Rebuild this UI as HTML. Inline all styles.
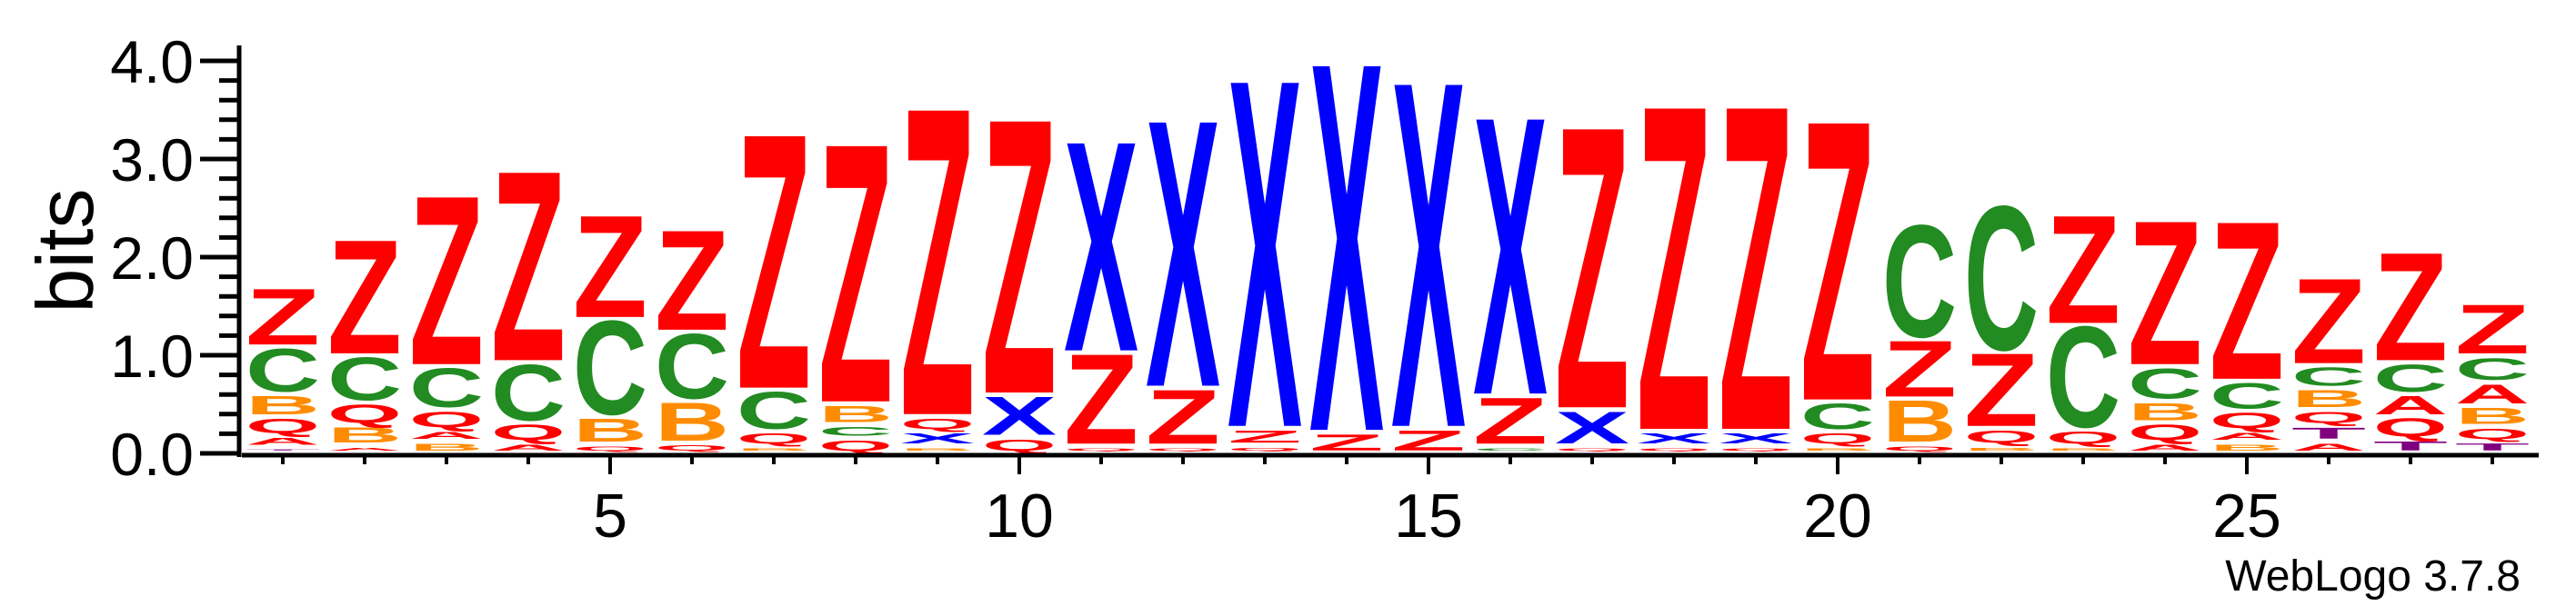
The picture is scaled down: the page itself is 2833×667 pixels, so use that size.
<!DOCTYPE html>
<html><head><meta charset="utf-8"><style>
html,body{margin:0;padding:0;background:#fff;}
svg{display:block;}
text{font-family:"Liberation Sans",sans-serif;}
</style></head><body>
<svg id="logo" width="2833" height="667" viewBox="0 0 2833 667" xmlns="http://www.w3.org/2000/svg">
<g id="stacks"></g>
<g id="axes"></g>
<text x="0" y="0" font-size="88" text-anchor="middle" transform="translate(102,276) rotate(-90)">bits</text>
<text x="2772" y="650" font-size="48" text-anchor="end">WebLogo 3.7.8</text>
</svg>
<script>
// positions 1..28; each stack bottom-to-top: letters and heights (bits)
const positions = [1,2,3,4,5,6,7,8,9,10,11,12,13,14,15,16,17,18,19,20,21,22,23,24,25,26,27,28];
const stackLetters = [
  ["T","A","Q","B","C","Z"],
  ["A","B","Q","C","Z"],
  ["B","A","Q","C","Z"],
  ["A","Q","C","Z"],
  ["Q","B","C","Z"],
  ["Q","B","C","Z"],
  ["B","Q","C","Z"],
  ["Q","C","B","Z"],
  ["B","X","Q","Z"],
  ["Q","X","Z"],
  ["Q","Z","X"],
  ["Q","Z","X"],
  ["Q","Z","X"],
  ["Z","X"],
  ["Z","X"],
  ["C","Z","X"],
  ["Q","X","Z"],
  ["Q","X","Z"],
  ["Q","X","Z"],
  ["B","Q","C","Z"],
  ["Q","B","Z","C"],
  ["B","Q","Z","C"],
  ["B","Q","C","Z"],
  ["A","Q","B","C","Z"],
  ["B","A","Q","C","Z"],
  ["A","T","Q","B","C","Z"],
  ["T","Q","A","C","Z"],
  ["T","Q","B","A","C","Z"]
];
const stackHeights = [
  [0.01,0.07,0.14,0.18,0.43,0.56],
  [0.03,0.15,0.18,0.43,1.14],
  [0.07,0.07,0.15,0.39,1.69],
  [0.06,0.15,0.56,1.9],
  [0.04,0.23,0.94,1.02],
  [0.05,0.38,0.65,1.0],
  [0.02,0.10,0.37,2.55],
  [0.10,0.09,0.16,2.59],
  [0.02,0.10,0.10,3.08],
  [0.11,0.38,2.75],
  [0.02,0.90,2.10],
  [0.02,0.54,2.67],
  [0.03,0.12,3.48],
  [0.16,3.69],
  [0.20,3.46],
  [0.02,0.46,2.78],
  [0.02,0.32,2.82],
  [0.02,0.10,3.25],
  [0.02,0.10,3.25],
  [0.02,0.10,0.25,2.80],
  [0.04,0.41,0.56,1.12],
  [0.03,0.12,0.73,1.44],
  [0.02,0.12,1.01,1.08],
  [0.06,0.15,0.17,0.30,1.44],
  [0.06,0.07,0.15,0.25,1.58],
  [0.07,0.11,0.11,0.17,0.18,0.85],
  [0.09,0.18,0.18,0.27,1.08],
  [0.07,0.10,0.16,0.19,0.22,0.49]
];
const yTicks = [0,1,2,3,4];
const yTickLabels = ["0.0","1.0","2.0","3.0","4.0"];
const xTickLabels = [5,10,15,20,25];

const colors = {Z:"#ff0000",Q:"#ff0000",A:"#ff0000",C:"#228b22",B:"#ff8c00",X:"#0000ff",T:"#800080"};
const NS = "http://www.w3.org/2000/svg";
const y0 = 499, pxPerBit = 108, x1 = 311, step = 90;
function yScale(b){ return y0 - b*pxPerBit; }
function xScale(p){ return x1 + (p-1)*step; }
const GAP = 0.05, START = 0.03, W = 82;

const stacks = document.getElementById('stacks');
positions.forEach((p,i)=>{
  const g = document.createElementNS(NS,'g');
  
  
  let b = START;
  stackLetters[i].forEach((L,j)=>{
    const h = stackHeights[i][j];
    const hp = h*pxPerBit;
    const yb = yScale(b);
    const t = document.createElementNS(NS,'text');
    
    
    t.textContent = L;
    t.setAttribute('font-size','100');
    t.setAttribute('font-weight','bold');
    t.setAttribute('fill',colors[L]);
    t.setAttribute('textLength', W);
    t.setAttribute('lengthAdjust','spacingAndGlyphs');
    const sy = hp/68.5;
    t.setAttribute('transform','translate('+(xScale(p)-W/2)+','+yb+') scale(1,'+sy+')');
    g.appendChild(t);
    b += h + GAP;
  });
  stacks.appendChild(g);
});

const axes = document.getElementById('axes');
function line(x1_,y1_,x2_,y2_,w,name){
  const l = document.createElementNS(NS,'line');
  
  
  l.setAttribute('x1',x1_);l.setAttribute('y1',y1_);l.setAttribute('x2',x2_);l.setAttribute('y2',y2_);
  l.setAttribute('stroke','#000');l.setAttribute('stroke-width',w);
  axes.appendChild(l);
}
line(263,50,263,503,5,'y-axis-line');
line(266,501,2792,501,5,'x-axis-line');
for(let k=0;k<=20;k++){
  const v = k*0.2;
  const major = (k%5===0);
  line(major?220:241, yScale(v), 263, yScale(v), 5, major?'y-major-tick':'y-minor-tick');
}
yTicks.forEach((v,i)=>{
  const t = document.createElementNS(NS,'text');
  
  
  t.setAttribute('x',213);t.setAttribute('y',yScale(v)+24);
  t.setAttribute('font-size','66');t.setAttribute('text-anchor','end');
  t.textContent = yTickLabels[i];
  axes.appendChild(t);
});
positions.forEach(p=>{
  const major = (p%5===0);
  line(xScale(p),503,xScale(p),major?522:511,4,major?'x-major-tick':'x-minor-tick');
});
xTickLabels.forEach(v=>{
  const t = document.createElementNS(NS,'text');
  
  
  t.setAttribute('x',xScale(v));t.setAttribute('y',591);
  t.setAttribute('font-size','68');t.setAttribute('text-anchor','middle');
  t.textContent = v;
  axes.appendChild(t);
});
</script>
</body></html>
